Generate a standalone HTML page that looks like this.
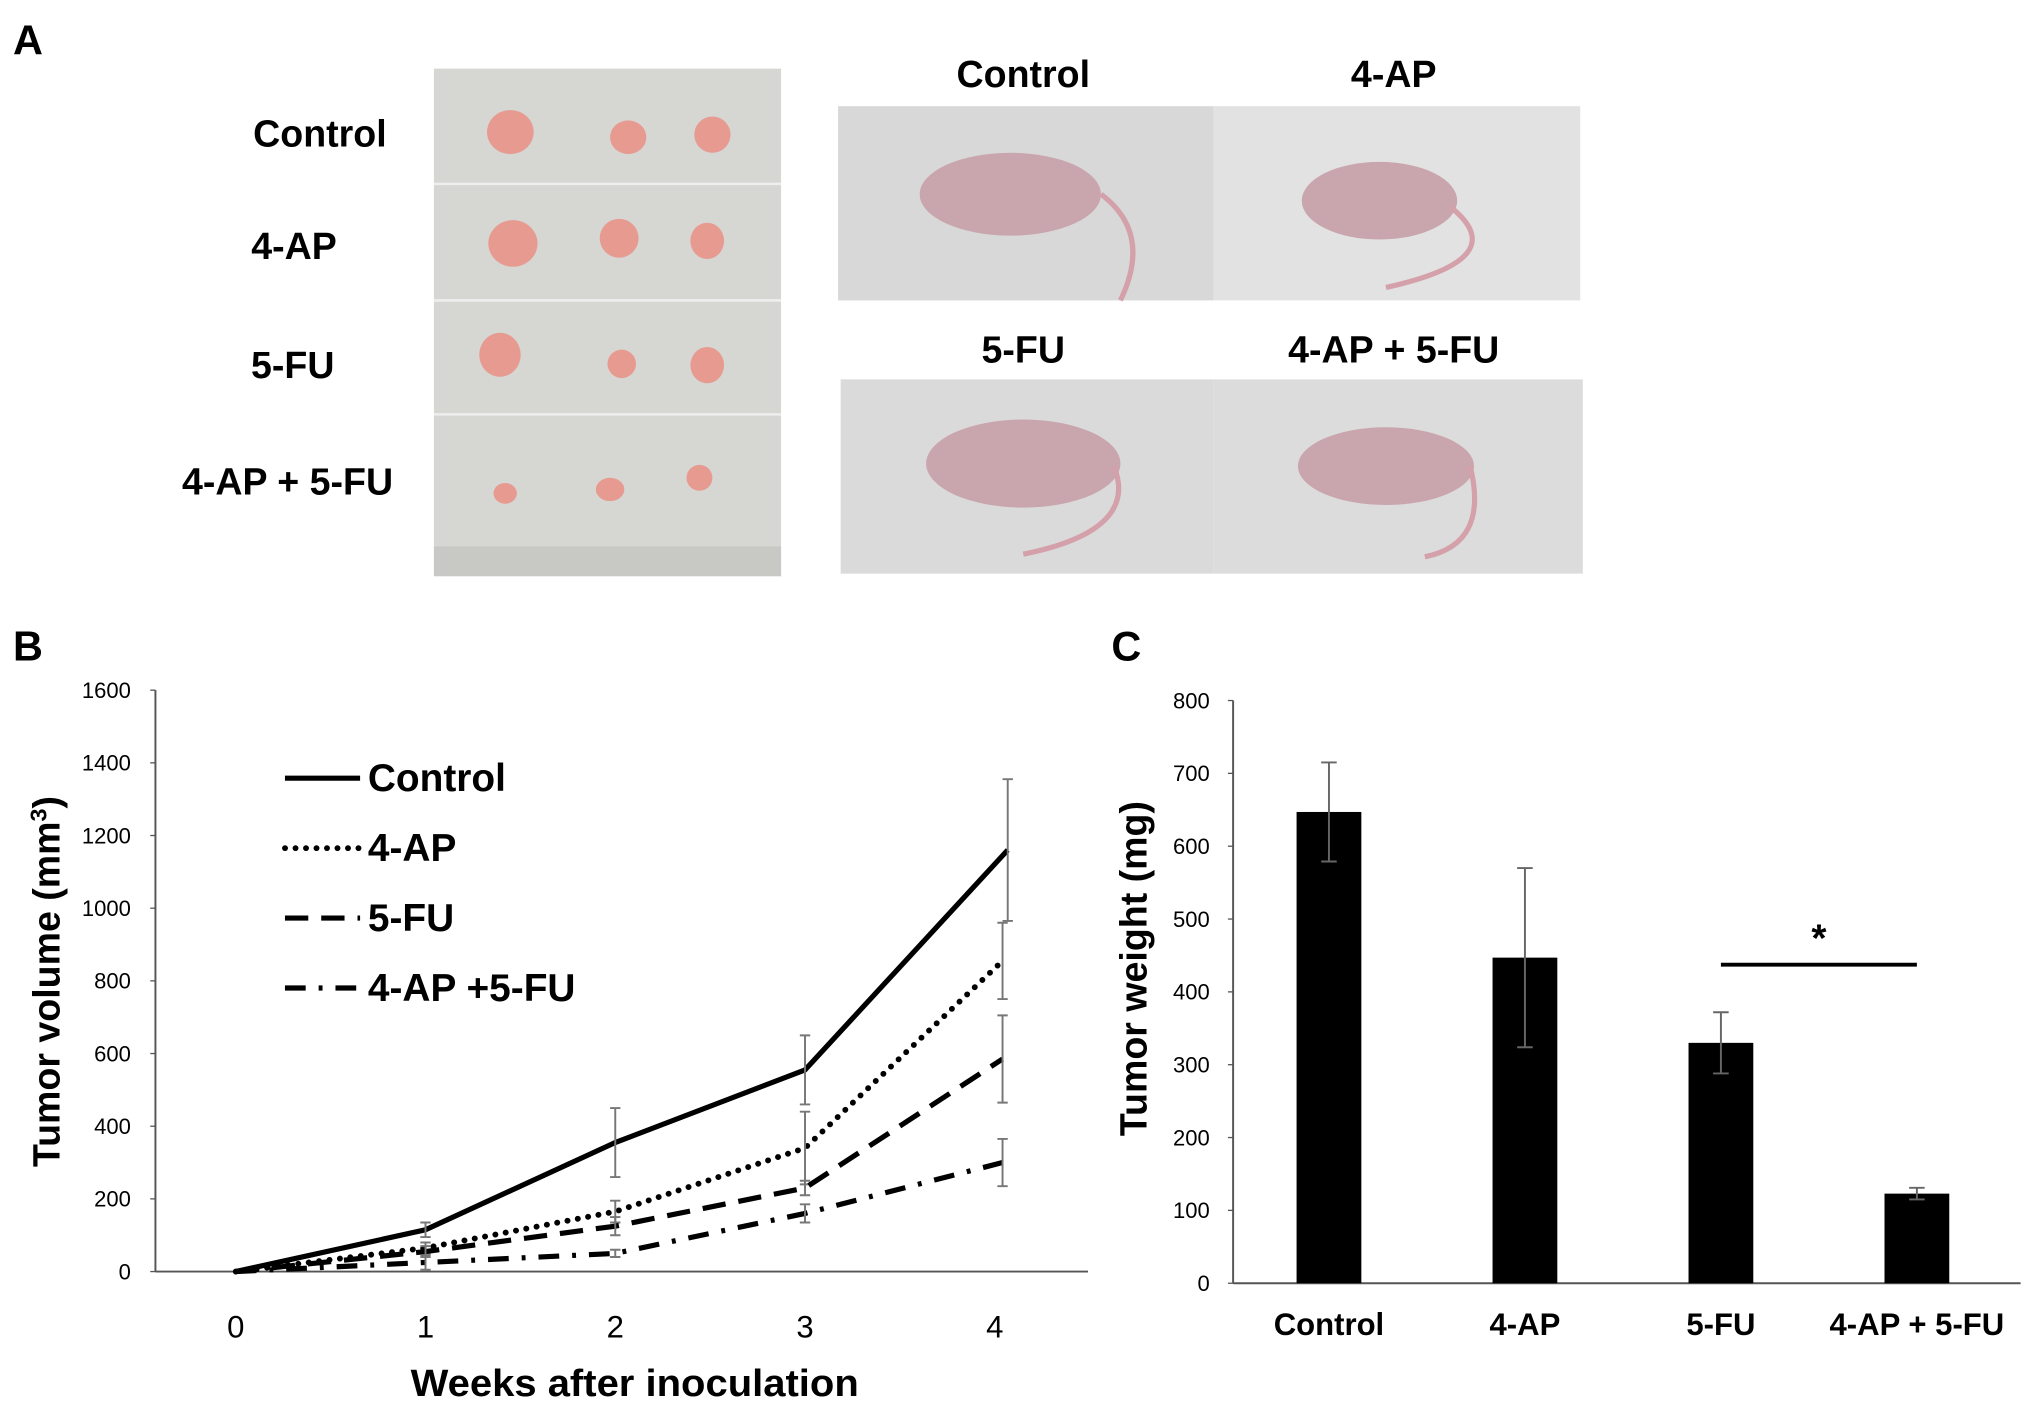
<!DOCTYPE html>
<html><head><meta charset="utf-8"><style>
html,body{margin:0;padding:0;background:#fff;}
svg{display:block;font-family:"Liberation Sans",Arial,sans-serif;}
</style></head><body>
<svg id="fig" width="2031" height="1414" viewBox="0 0 1568 1092" preserveAspectRatio="none">
<g font-weight="bold" font-size="32">
<text x="10" y="42">A</text>
<text x="10" y="510">B</text>
<text x="858" y="510">C</text>
</g>
<g>
<rect x="335" y="53" width="268" height="392" fill="#d6d6d3"/>
<line x1="335" y1="142" x2="603" y2="142" stroke="#eee" stroke-width="2"/>
<line x1="335" y1="232" x2="603" y2="232" stroke="#eee" stroke-width="2"/>
<line x1="335" y1="320" x2="603" y2="320" stroke="#eee" stroke-width="2"/>
<rect x="335" y="422" width="268" height="23" fill="#c8c8c4"/>
<g fill="#e79a90">
<ellipse cx="394" cy="102" rx="18" ry="17"/><ellipse cx="485" cy="106" rx="14" ry="13"/><ellipse cx="550" cy="104" rx="14" ry="14"/>
<ellipse cx="396" cy="188" rx="19" ry="18"/><ellipse cx="478" cy="184" rx="15" ry="15"/><ellipse cx="546" cy="186" rx="13" ry="14"/>
<ellipse cx="386" cy="274" rx="16" ry="17"/><ellipse cx="480" cy="281" rx="11" ry="11"/><ellipse cx="546" cy="282" rx="13" ry="14"/>
<ellipse cx="390" cy="381" rx="9" ry="8"/><ellipse cx="471" cy="378" rx="11" ry="9"/><ellipse cx="540" cy="369" rx="10" ry="10"/>
</g></g>
<g font-weight="bold" font-size="29" text-anchor="middle">
<text x="247" y="113">Control</text><text x="227" y="200">4-AP</text><text x="226" y="292">5-FU</text><text x="222" y="382">4-AP + 5-FU</text>
</g>
<g>
<rect x="647" y="82" width="290" height="150" fill="#d8d8d8"/><rect x="937" y="82" width="283" height="150" fill="#e2e2e2"/>
<rect x="649" y="293" width="288" height="150" fill="#dadada"/><rect x="937" y="293" width="285" height="150" fill="#dcdcdc"/>
<g fill="#c9a6ad">
<ellipse cx="780" cy="150" rx="70" ry="32"/><ellipse cx="1065" cy="155" rx="60" ry="30"/>
<ellipse cx="790" cy="358" rx="75" ry="34"/><ellipse cx="1070" cy="360" rx="68" ry="30"/>
</g>
<g fill="none" stroke="#d4a0aa" stroke-width="4">
<path d="M850 150 Q890 180 865 232"/><path d="M1120 160 Q1170 200 1070 222"/>
<path d="M860 360 Q880 410 790 428"/><path d="M1135 360 Q1150 420 1100 430"/>
</g></g>
<g font-weight="bold" font-size="29" text-anchor="middle">
<text x="790" y="67">Control</text><text x="1076" y="67">4-AP</text><text x="790" y="280">5-FU</text><text x="1076" y="280">4-AP + 5-FU</text>
</g>
<g id="chartB"></g>
<g id="chartC"></g>
</svg>
<script>
const weeks=[0,1,2,3,4];
const seriesNames=["Control","4-AP","5-FU","4-AP +5-FU"];
const controlVals=[0,115,355,555,1160];
const apVals=[0,65,165,340,855];
const fuVals=[0,55,125,230,585];
const comboVals=[0,25,50,160,300];
const controlErr=[0,20,95,95,195];
const apErr=[0,15,30,100,105];
const fuErr=[0,15,25,20,120];
const comboErr=[0,20,10,25,65];
const volTicks=[0,200,400,600,800,1000,1200,1400,1600];
const weightCats=["Control","4-AP","5-FU","4-AP + 5-FU"];
const weightVals=[647,447,330,123];
const weightErr=[68,123,42,8];
const weightTicks=[0,100,200,300,400,500,600,700,800];
const NS="http://www.w3.org/2000/svg";
function mk(p,t,a,txt){const e=document.createElementNS(NS,t);for(const k in a)e.setAttribute(k,a[k]);if(txt!==undefined)e.textContent=txt;p.appendChild(e);return e;}
const B=document.getElementById('chartB');
const bx=w=>182+w*146.5, by=v=>982-v*(449/1600);
mk(B,'line',{x1:120,y1:533,x2:120,y2:982,stroke:'#555','stroke-width':1.5});
mk(B,'line',{x1:120,y1:982,x2:840,y2:982,stroke:'#555','stroke-width':1.5});
volTicks.forEach(t=>{
 const l=mk(B,'line',{x1:116,y1:by(t),x2:120,y2:by(t),stroke:'#555'});
 
 
 const tx=mk(B,'text',{x:101,y:by(t)+6,'text-anchor':'end','font-size':17},t);
 
 
});
weeks.forEach(w=>{const tx=mk(B,'text',{x:bx(w),y:1033,'text-anchor':'middle','font-size':24},w);
 
 });
const xt=mk(B,'text',{x:490,y:1078,'text-anchor':'middle','font-size':29,'font-weight':'bold',textLength:346,lengthAdjust:'spacingAndGlyphs'},'Weeks after inoculation');


const yt=mk(B,'text',{x:0,y:0,'text-anchor':'middle','font-size':29,'font-weight':'bold',transform:'translate(46,758) rotate(-90)'});
yt.innerHTML='Tumor volume (mm<tspan baseline-shift="super" font-size="18">3</tspan>)';


const allVals=[controlVals,apVals,fuVals,comboVals], allErr=[controlErr,apErr,fuErr,comboErr];
const dashes=['none','0.1 8','18 10','16 10 3 10'];
const lc=['butt','round','butt','butt'];
allVals.forEach((vals,si)=>{
 const pts=vals.map((v,i)=>bx(weeks[i])+(i==4?(si==0?10:6):0)+','+by(v)).join(' ');
 const pl=mk(B,'polyline',{points:pts,fill:'none',stroke:'#000','stroke-width':si==1?4.5:4,'stroke-dasharray':dashes[si],'stroke-linecap':lc[si]});
 
 
 vals.forEach((v,i)=>{if(i==0)return;const e=allErr[si][i];const x=bx(weeks[i])+(i==4?(si==0?10:6):0);
  const g=mk(B,'path',{d:`M${x} ${by(v-e)}V${by(v+e)}M${x-4} ${by(v-e)}h8M${x-4} ${by(v+e)}h8`,stroke:'#777','stroke-width':1.5,fill:'none'});
  
  });
});
seriesNames.forEach((n,i)=>{const y=601+i*54;
 const l=mk(B,'line',{x1:220,y1:y,x2:278,y2:y,stroke:'#000','stroke-width':i==1?4.5:4,'stroke-dasharray':dashes[i],'stroke-linecap':lc[i]});
 
 
 const t=mk(B,'text',{x:284,y:y+10,'font-size':30,'font-weight':'bold'},n);
 
 });
const C=document.getElementById('chartC');
const cx=i=>1026+i*151.3, cy=v=>991-v*(450/800);
mk(C,'line',{x1:952,y1:541,x2:952,y2:991,stroke:'#555','stroke-width':1.5});
mk(C,'line',{x1:952,y1:991,x2:1560,y2:991,stroke:'#555','stroke-width':1.5});
weightTicks.forEach(t=>{
 const l=mk(C,'line',{x1:948,y1:cy(t),x2:952,y2:cy(t),stroke:'#555'});
 
 
 const tx=mk(C,'text',{x:934,y:cy(t)+6,'text-anchor':'end','font-size':17},t);
 
 });
weightCats.forEach((c,i)=>{
 const r=mk(C,'rect',{x:cx(i)-25,y:cy(weightVals[i]),width:50,height:cy(0)-cy(weightVals[i]),fill:'#000'});
 
 
 const x=cx(i),lo=cy(weightVals[i]-weightErr[i]),hi=cy(weightVals[i]+weightErr[i]);
 const e=mk(C,'path',{d:`M${x} ${lo}V${hi}M${x-6} ${lo}h12M${x-6} ${hi}h12`,stroke:'#666','stroke-width':1.5,fill:'none'});
 
 
 const t=mk(C,'text',{x:x,y:1031,'text-anchor':'middle','font-size':24,'font-weight':'bold'},c);
 
 });
const sig=mk(C,'line',{x1:cx(2),y1:745,x2:cx(3),y2:745,stroke:'#000','stroke-width':3});


const st=mk(C,'text',{x:(cx(2)+cx(3))/2,y:735,'text-anchor':'middle','font-size':30,'font-weight':'bold'},'*');


const yc=mk(C,'text',{x:0,y:0,'text-anchor':'middle','font-size':29,'font-weight':'bold',transform:'translate(885,748) rotate(-90)'},'Tumor weight (mg)');


</script>
</body></html>
